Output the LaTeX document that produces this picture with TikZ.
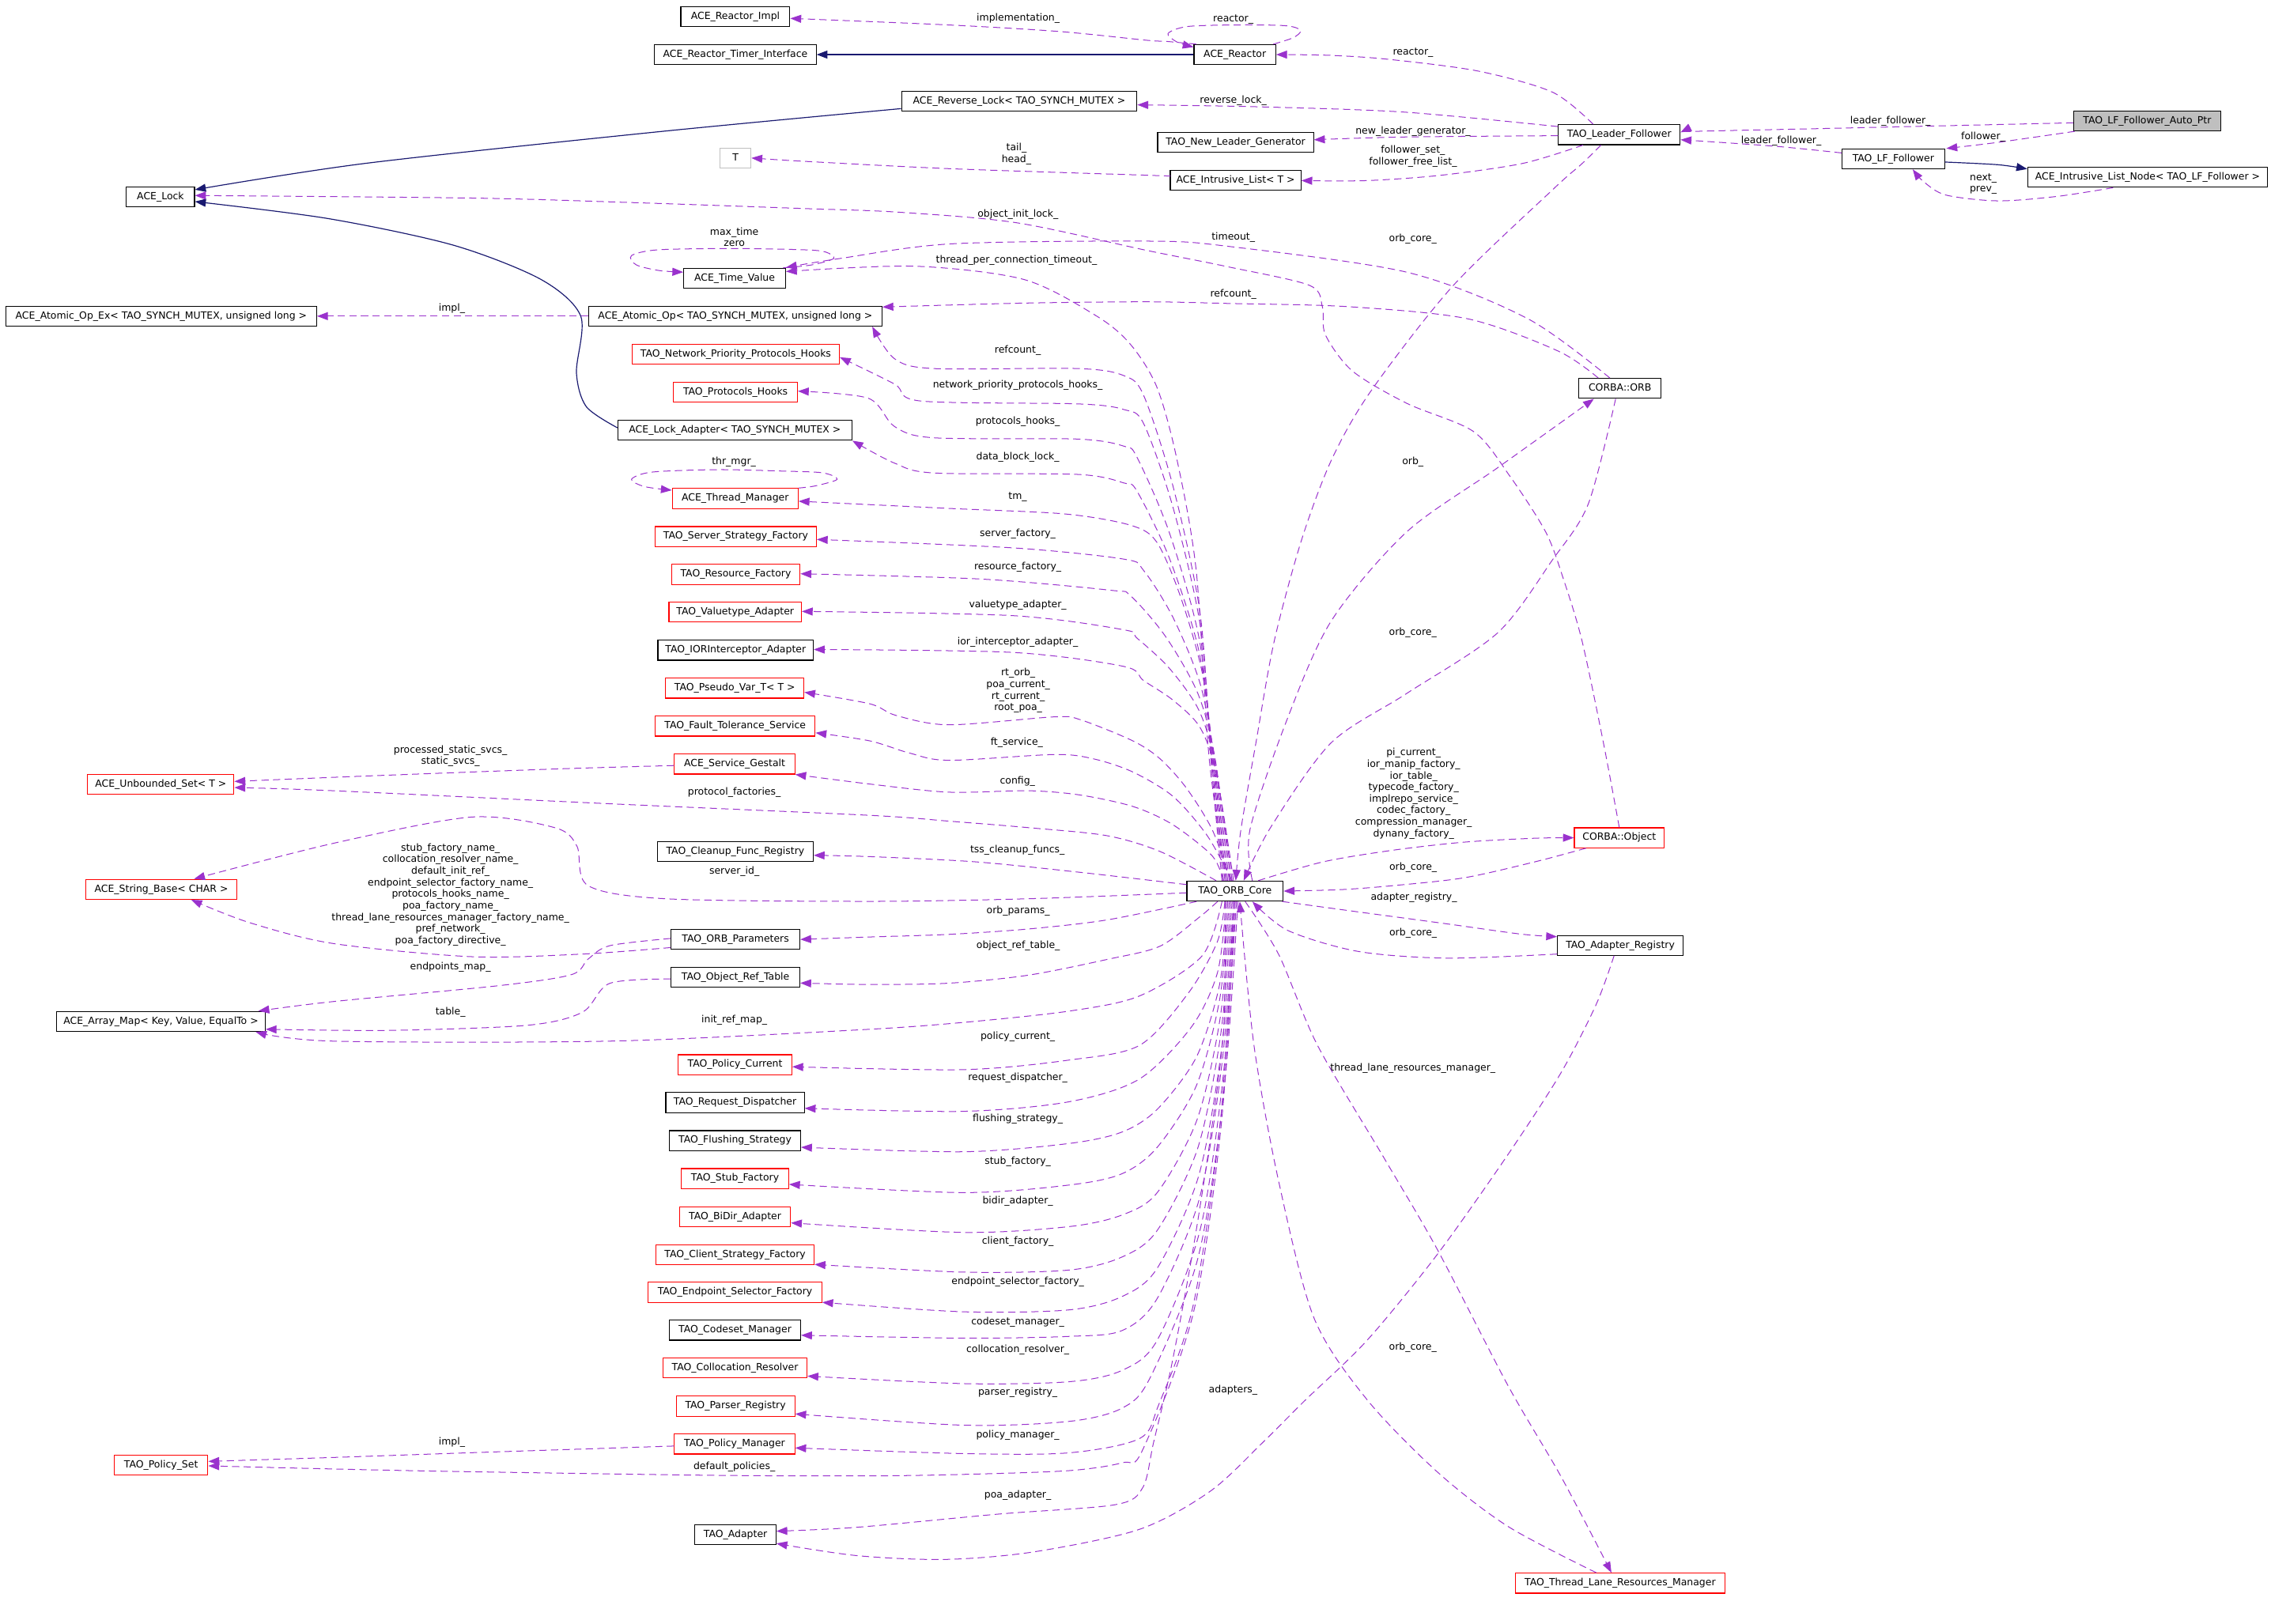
\documentclass[tikz,border=0pt]{standalone}
\usepackage{fontspec}
\setmainfont{DejaVu Sans}
\usetikzlibrary{arrows.meta}
\definecolor{depc}{HTML}{9A32CD}
\definecolor{inhc}{HTML}{191970}
\definecolor{grc}{HTML}{BFBFBF}
\newcommand{\dxf}{\fontsize{6.8}{8}\selectfont}
\begin{document}
\begin{tikzpicture}[x=1pt,y=-1pt,
 box/.style={draw=black, line width=0.6pt, minimum height=13.8pt, inner xsep=1pt, inner ysep=0pt, font=\dxf, text height=5.1pt, text depth=1.5pt},
 rbox/.style={box, draw=red},
 lbl/.style={font=\dxf, inner sep=0pt, text height=5.1pt, text depth=1.5pt},
 mlbl/.style={font=\dxf, inner sep=0pt, align=center},
 dep/.style={draw=depc, line width=0.55pt, dash pattern=on 5pt off 3pt, -{Triangle[length=7.5pt,width=5.5pt]}},
 inh/.style={draw=inhc, line width=0.65pt, -{Triangle[length=7.5pt,width=5.5pt]}},
]
\useasboundingbox (0,0) rectangle (1568,1121);

% ---------------- nodes ----------------
\node[box, minimum width=75.3pt] (impl) at (507.7,11.4) {ACE\_Reactor\_Impl};
\node[box, minimum width=111.6pt] (rti) at (507.7,37.7) {ACE\_Reactor\_Timer\_Interface};
\node[box, minimum width=56.4pt] (reactor) at (852.6,37.7) {ACE\_Reactor};
\node[box, minimum width=162.5pt] (rlock) at (703.7,69.9) {ACE\_Reverse\_Lock< TAO\_SYNCH\_MUTEX >};
\node[box, minimum width=84pt] (lf) at (1118,93) {TAO\_Leader\_Follower};
\node[box, fill=grc, minimum width=101.5pt] (autoptr) at (1482.5,83.5) {TAO\_LF\_Follower\_Auto\_Ptr};
\node[box, minimum width=107.6pt] (nlg) at (853.1,98.3) {TAO\_New\_Leader\_Generator};
\node[box, minimum width=70.7pt] (lff) at (1307.2,109.7) {TAO\_LF\_Follower};
\node[box, minimum width=165.6pt] (iln) at (1482.8,122.4) {ACE\_Intrusive\_List\_Node< TAO\_LF\_Follower >};
\node[box, draw=grc, minimum width=21.2pt] (T) at (507.9,109.1) {T};
\node[box, minimum width=90.2pt] (il) at (853.1,124.4) {ACE\_Intrusive\_List< T >};
\node[box, minimum width=47pt] (lock) at (110.8,135.9) {ACE\_Lock};
\node[box, minimum width=70.3pt] (tv) at (507.2,192.1) {ACE\_Time\_Value};
\node[box, minimum width=214.6pt] (aoex) at (111.3,218.3) {ACE\_Atomic\_Op\_Ex< TAO\_SYNCH\_MUTEX, unsigned long >};
\node[box, minimum width=202.5pt] (ao) at (507.7,218.3) {ACE\_Atomic\_Op< TAO\_SYNCH\_MUTEX, unsigned long >};
\node[rbox, minimum width=143.1pt] (nph) at (508,244.7) {TAO\_Network\_Priority\_Protocols\_Hooks};
\node[rbox, minimum width=85.6pt] (ph) at (507.8,270.8) {TAO\_Protocols\_Hooks};
\node[box, minimum width=161.6pt] (la) at (507.4,297.1) {ACE\_Lock\_Adapter< TAO\_SYNCH\_MUTEX >};
\node[rbox, minimum width=86.9pt] (tm) at (507.6,344.2) {ACE\_Thread\_Manager};
\node[rbox, minimum width=111.3pt] (ssf) at (508,370.5) {TAO\_Server\_Strategy\_Factory};
\node[rbox, minimum width=88.7pt] (rf) at (508,396.6) {TAO\_Resource\_Factory};
\node[rbox, minimum width=91.4pt] (va) at (507.6,422.7) {TAO\_Valuetype\_Adapter};
\node[box, minimum width=107.3pt] (iora) at (507.9,449) {TAO\_IORInterceptor\_Adapter};
\node[rbox, minimum width=95.5pt] (pv) at (507.3,475.2) {TAO\_Pseudo\_Var\_T< T >};
\node[rbox, minimum width=110.4pt] (fts) at (507.6,501.4) {TAO\_Fault\_Tolerance\_Service};
\node[rbox, minimum width=83.1pt] (sg) at (507.2,527.6) {ACE\_Service\_Gestalt};
\node[rbox, minimum width=101.1pt] (us) at (111,541.5) {ACE\_Unbounded\_Set< T >};
\node[box, minimum width=107.6pt] (cfr) at (507.7,588) {TAO\_Cleanup\_Func\_Registry};
\node[rbox, minimum width=104.1pt] (sb) at (111.4,614.1) {ACE\_String\_Base< CHAR >};
\node[box, minimum width=66.5pt] (core) at (852.7,615.3) {TAO\_ORB\_Core};
\node[rbox, minimum width=62pt] (obj) at (1118,578.5) {CORBA::Object};
\node[box, minimum width=57pt] (orb) at (1118.5,268.2) {CORBA::ORB};
\node[box, minimum width=88.9pt] (op) at (507.8,648.5) {TAO\_ORB\_Parameters};
\node[box, minimum width=88.9pt] (ort) at (507.8,674.7) {TAO\_Object\_Ref\_Table};
\node[box, minimum width=86.7pt] (ar) at (1118.7,652.8) {TAO\_Adapter\_Registry};
\node[box, minimum width=144pt] (am) at (111.1,705.3) {ACE\_Array\_Map< Key, Value, EqualTo >};
\node[rbox, minimum width=78.4pt] (pc) at (507.5,735.2) {TAO\_Policy\_Current};
\node[box, minimum width=95.6pt] (rd) at (507.5,761.3) {TAO\_Request\_Dispatcher};
\node[box, minimum width=90.6pt] (fs) at (507.5,787.6) {TAO\_Flushing\_Strategy};
\node[rbox, minimum width=74pt] (sf) at (507.5,813.8) {TAO\_Stub\_Factory};
\node[rbox, minimum width=76.6pt] (bda) at (507.5,840.1) {TAO\_BiDir\_Adapter};
\node[rbox, minimum width=109.2pt] (csf) at (507.5,866.3) {TAO\_Client\_Strategy\_Factory};
\node[rbox, minimum width=119.8pt] (esf) at (507.5,892.4) {TAO\_Endpoint\_Selector\_Factory};
\node[box, minimum width=90.6pt] (cm) at (507.5,918.5) {TAO\_Codeset\_Manager};
\node[rbox, minimum width=99.4pt] (cr) at (507.5,944.6) {TAO\_Collocation\_Resolver};
\node[rbox, minimum width=81.9pt] (pr) at (507.8,971) {TAO\_Parser\_Registry};
\node[rbox, minimum width=83.1pt] (pm) at (507.2,997.1) {TAO\_Policy\_Manager};
\node[rbox, minimum width=64.7pt] (ps) at (111.2,1011.5) {TAO\_Policy\_Set};
\node[box, minimum width=55.9pt] (ad) at (507.8,1059.6) {TAO\_Adapter};
\node[rbox, minimum width=145pt] (tlrm) at (1118.6,1093.2) {TAO\_Thread\_Lane\_Resources\_Manager};

% ---------------- inheritance ----------------
\draw[inh] (reactor.west) -- (rti.east);
\draw[inh] plot[smooth] coordinates {([yshift=-5.1pt]rlock.west) (454.4,91) (252.4,112.8) ([yshift=4.9pt]lock.east)};
\draw[inh] plot[smooth] coordinates {([yshift=1.7pt]la.west) (404.8,280.8) (398,257.4) (401,218.4) (373.6,193) (313,169.3) (227,151) ([yshift=-3.3pt]lock.east)};
\draw[inh] plot[smooth] coordinates {([yshift=-2.2pt]lff.east) (1379.5,113.75) ([yshift=-1.5pt]iln.north west)};

% ---------------- top region ----------------
\draw[dep] plot[smooth] coordinates {([xshift=2pt]reactor.north west) (805.4,28.6) (791.7,27.8) (732,21.8) (656.4,17.3) ([yshift=-1.3pt]impl.east)};
\draw[dep] plot[smooth] coordinates {([xshift=-2pt]reactor.north east) (893,26) (898,21) (888,17.8) (856.7,17.2) (820,18.3) (806.4,23.2) (813,29.2) ([yshift=-2pt]reactor.north west)};
\draw[dep] plot[smooth] coordinates {([xshift=-18pt]lf.north) (1072,63.7) (1020.7,49.1) (959,41) (918.2,38.2) (reactor.east)};
\draw[dep] plot[smooth] coordinates {([yshift=5.6pt]lf.west) (969.4,77.4) (866.9,73.7) ([yshift=-2.5pt]rlock.east)};
\draw[dep] plot[smooth] coordinates {([yshift=-0.7pt]lf.west) (969.4,94.6) ([yshift=1.8pt]nlg.east)};
\draw[dep] plot[smooth] coordinates {([xshift=-25pt]lf.south) (1051.5,112.8) (995.1,121) (943.8,124.7) ([yshift=-0.3pt]il.east)};
\draw[dep] plot[smooth] coordinates {([yshift=2.8pt]il.west) (791.7,121) (656.4,116.5) (555.4,111.4) (T.east)};
\draw[dep] plot[smooth] coordinates {([yshift=-1.3pt]autoptr.west) (1256.5,88.8) (1174.5,90.6) ([yshift=1.6pt]lf.east)};
\draw[dep] plot[smooth] coordinates {([xshift=1pt]autoptr.south west) (1379.5,98.3) ([xshift=1pt]lff.north east)};
\draw[dep] plot[smooth] coordinates {([yshift=4.1pt]lff.west) (1225.7,101) ([yshift=-3.5pt]lf.east)};
\draw[dep] plot[smooth] coordinates {([xshift=-23.8pt]iln.south) (1420.5,135.6) (1379.5,138.7) (1343.6,134.7) (1328.3,125.6) ([xshift=13.4pt]lff.south)};

% object_init_lock_
\draw[dep] plot[smooth] coordinates {(obj.north) (1107,512.6) (1092.4,443) (1079.9,401.2) (1067.4,367.7) (1042.4,328.7) (1017.4,298) (971.5,278.6) (933.9,256.3) (915.1,231.2) (913,211.7) (904,197) (846.3,183.9) (791.7,172.9) (701.8,153.8) (620,146.5) (555,144) (434,139.8) (328,136.8) ([yshift=0.9pt]lock.east)};
% timeout_ , refcount_ from ORB
\draw[dep] plot[smooth] coordinates {([xshift=-7pt]orb.north) (1054.9,220.1) (971.5,188) (846.3,169.9) (791.7,166.5) (656.4,168.4) (580.6,178.4) ([yshift=7.4pt]tv.east)};
\draw[dep] plot[smooth] coordinates {([xshift=-15pt]orb.north) (1075.8,242.4) (1013.2,220.1) (929.7,211.7) (846.3,209.5) (791.7,208.4) (706.9,209.3) ([yshift=6.3pt]ao.east)};
% Time value self loop
\draw[dep] plot[smooth] coordinates {([xshift=-2pt]tv.north east) (560,183) (575.6,178.5) (570,174) (555.4,172.5) (506.4,171.6) (454.4,172.5) (436,176.5) (439.3,182.9) (455,186.8) ([yshift=-3pt]tv.north west)};
% thread_per_connection_timeout_
\draw[dep] plot[smooth] coordinates {([xshift=-6pt]core.north) (834.9,524.2) (825.9,393.9) (812.3,315.9) (798.7,267.2) (780.6,237.9) (757.4,218.4) (707,193) (631,183.8) ([yshift=4.6pt]tv.east)};
\draw[dep] (ao.west) -- (aoex.east);

% ---------------- ORB core, upward left ----------------
\draw[dep] plot[smooth] coordinates {([xshift=-9pt]core.north) (836,524) (828.6,423.6) (809.9,335.8) (789.6,273) (776,259.4) (744.4,254.5) (644.8,254.5) (617.6,247.7) ([xshift=-7pt]ao.south east)};
\draw[dep] plot[smooth] coordinates {([xshift=-8pt]core.north) (836.5,524) (828.6,431.4) (809.9,350.4) (789.6,292.5) (776,282.8) (744.4,278.9) (635.7,276.9) (617.6,265.2) ([yshift=-2pt]nph.east)};
\draw[dep] plot[smooth] coordinates {([xshift=-7pt]core.north) (837,524) (827.9,440.8) (807.4,367.9) (785.1,315.9) (776,308.1) (744.4,303.2) (644.8,302.3) (617.6,294.5) (599.5,275) ([yshift=0.7pt]ph.east)};
\draw[dep] plot[smooth] coordinates {([xshift=-6pt]core.north) (837.5,524) (827.9,450.1) (807.4,385.5) (785.1,339.3) (776,333.5) (744.4,327.6) (644.8,326.6) (617.6,319.8) (la.south east)};
\draw[dep] plot[smooth] coordinates {(tm.north east) (563,335.5) (578,331) (568,326.5) (540.6,325.3) (495.4,324.3) (450,326) (436,331) (445,336) ([yshift=-1.5pt]tm.north west)};
\draw[dep] plot[smooth] coordinates {([xshift=-5pt]core.north) (838,524) (830,464.2) (815,411.8) (798.7,374.4) (780.6,362.7) (735.3,354.9) (653.8,351) ([yshift=-1.9pt]tm.east)};
\draw[dep] plot[smooth] coordinates {([xshift=-4pt]core.north) (838.5,524) (828.6,472) (809.9,426.4) (789.6,393.9) (776,386.1) (699.1,378.3) ([yshift=-2pt]ssf.east)};
\draw[dep] plot[smooth] coordinates {([xshift=-3pt]core.north) (839,524) (827.1,479) (804.8,439.6) (780.6,411.5) (767,407.6) (676.5,399.8) ([yshift=0.4pt]rf.east)};
\draw[dep] plot[smooth] coordinates {([xshift=-2pt]core.north) (839.5,530) (827.9,490.7) (807.4,461.5) (785.1,440.7) (776,434.9) (699.1,425.1) ([yshift=0.5pt]va.east)};
\draw[dep] plot[smooth] coordinates {([xshift=-1pt]core.north) (840,535) (828.6,502.4) (809.9,483.5) (789.6,470) (776,460.2) (699.1,450.5) ([yshift=0.5pt]iora.east)};
\draw[dep] plot[smooth] coordinates {([xshift=-3pt]core.north) (837,573) (819,544) (801,524) (782,511.5) (746,497) (728,495) (655,500.5) (618.6,494) (600.6,486) ([yshift=-2.8pt]pv.east)};
\draw[dep] plot[smooth] coordinates {([xshift=-2pt]core.north) (833.5,577) (810,550) (782,533) (755,524) (728,521) (655,525) (628,520) (600.6,511.6) ([yshift=-4.6pt]fts.east)};
\draw[dep] plot[smooth] coordinates {([xshift=-8pt]core.north) (837,591) (810,569.6) (782.6,557) (746,549) (710,546) (655,547) (600.6,541.4) (sg.south east)};
\draw[dep] plot[smooth] coordinates {([xshift=-13pt]core.north) (800.8,587.9) (764,577) (710,571.5) (655,567) (600.6,563) (421,555) (230,546) ([yshift=-2.3pt]us.east)};
\draw[dep] plot[smooth] coordinates {([yshift=4.5pt]core.west) (746.2,602.4) (673.4,595.1) (600.6,591.5) ([yshift=-2.6pt]cfr.east)};
\draw[dep] plot[smooth] coordinates {([yshift=-1.2pt]core.west) (710,620.6) (600.6,622.4) (459.6,620.6) (406,611.5) (398.3,584.2) (383,571.5) (325.5,564.2) (229.8,582.4) ([xshift=22.6pt]sb.north)};

% ---------------- ORB core, downward left ----------------
\draw[dep] plot[smooth] coordinates {([xshift=7pt]core.south west) (764.4,635.2) (709.8,641.5) (655.2,645.2) (600.6,647) ([yshift=-0.2pt]op.east)};
\draw[dep] plot[smooth] coordinates {([xshift=-12pt]core.south) (828,633.4) (800.8,653.4) (764.4,662.5) (709.8,673.4) (655.2,678.9) (600.6,679.8) ([yshift=-4.1pt]ort.east)};
\draw[dep] plot[smooth] coordinates {([xshift=-9pt]core.south) (830,660) (786.8,687.7) (738,698.2) (665,706) (591.8,711.2) (421.3,718.9) (229.8,718.9) ([xshift=-6.9pt]am.south east)};
\draw[dep] plot[smooth] coordinates {([xshift=-7pt]core.south) (840.6,650) (821,685) (787,721.7) (738,732) (665,738.6) ([yshift=-1.4pt]pc.east)};
\draw[dep] plot[smooth] coordinates {([xshift=-6pt]core.south) (840.7,671.2) (823,708.6) (786.8,745) (738,760.8) (665,767.4) ([yshift=-4pt]rd.east)};
\draw[dep] plot[smooth] coordinates {([xshift=-5pt]core.south) (842.1,679.6) (826,730) (799,766) (774.6,781.7) (738,789.6) (665,795.3) ([yshift=-4.6pt]fs.east)};
\draw[dep] plot[smooth] coordinates {([xshift=-4pt]core.south) (842.1,690.1) (826,749.7) (799,792.2) (774.6,810.5) (738,818.3) (665,823.5) ([yshift=-4pt]sf.east)};
\draw[dep] plot[smooth] coordinates {([xshift=-3pt]core.south) (842.5,702.6) (826.5,773.1) (799,823.5) (774.6,839) (738,847) (665,851) ([yshift=-4.3pt]bda.east)};
\draw[dep] plot[smooth] coordinates {([xshift=-2pt]core.south) (843,713) (827,792.7) (799,849.6) (774.6,868) (738,877) (665,878.4) ([yshift=-6.8pt]csf.east)};
\draw[dep] plot[smooth] coordinates {([xshift=-1pt]core.south) (843.5,723.5) (827.5,812.3) (799,875.7) (774.6,895.3) (738,904.5) (665,905.8) ([yshift=-6.9pt]esf.east)};
\draw[dep] plot[smooth] coordinates {(core.south) (844,731.8) (828,828) (799,896.6) (774.6,918.8) (738,922.8) (665,924) ([yshift=-3.5pt]cm.east)};
\draw[dep] plot[smooth] coordinates {([xshift=1pt]core.south) (844.5,743.4) (828.5,849.6) (799,925.4) (774.6,946.3) (738,954.1) (665,955.4) ([yshift=-5.6pt]cr.east)};
\draw[dep] plot[smooth] coordinates {([xshift=2pt]core.south) (845,753.8) (827,869.1) (794,951.5) (774.6,972.4) (738,981.5) (665,984.1) ([yshift=-5.3pt]pr.east)};
\draw[dep] plot[smooth] coordinates {([xshift=-1pt]core.south) (843,770.5) (824,900.5) (800,970) (786.8,993.3) (738,1003.2) (665,1003.7) ([yshift=-2.7pt]pm.east)};
\draw[dep] plot[smooth] coordinates {(core.south) (843.5,773.6) (824,906.3) (789,1001) (775,1010) (738,1015.5) (665,1018.1) (600.6,1019.1) (490.2,1018.7) (283.4,1015.5) ([yshift=-0.7pt]ps.east)};
\draw[dep] plot[smooth] coordinates {([xshift=-7pt]core.south) (845,708.6) (835.5,787) (823.3,865.3) (808.7,943.7) (796.5,995.9) (789,1027.2) (770,1039) (689.3,1045.5) (591.8,1054.6) ([yshift=2.3pt]ad.east)};

% ---------------- right side ----------------
\draw[dep] plot[smooth] coordinates {([xshift=16pt]core.north) (913.6,595.1) (962.3,587) (1011,581.5) (1059.8,578.8) (obj.west)};
\draw[dep] plot[smooth] coordinates {([xshift=-23pt]obj.south) (1059.8,595.1) (1011,606.1) (962.3,611.5) (925.7,614.3) (core.east)};
\draw[dep] plot[smooth] coordinates {([xshift=-1pt]core.south east) (937.9,629.7) (998.8,637.9) (1050,645) ([yshift=-1.2pt]ar.north west)};
\draw[dep] plot[smooth] coordinates {([yshift=-6pt]ar.west) (998.8,661.6) (937.9,657) (889.2,642.5) ([xshift=12pt]core.south)};
\draw[dep] plot[smooth] coordinates {([xshift=7pt]core.south) (882.9,659.2) (909.7,721.9) (956,800.3) (992.5,863) (1041.3,957) (1077.8,1019.6) ([xshift=-6pt]tlrm.north)};
\draw[dep] plot[smooth] coordinates {([xshift=-16.4pt]tlrm.north) (1041.3,1054.1) (992.5,1016.5) (943.8,966.4) (907.2,910) (882.9,816) (865.8,721.9) ([xshift=3.3pt]core.south)};
\draw[dep] plot[smooth] coordinates {([xshift=-4.3pt]ar.south) (1102,693.7) (1077.8,740.7) (1041.3,797) (992.5,866) (943.8,925.6) (900.8,967.2) (872,995.9) (835.5,1029.8) (786.8,1056) (713.7,1071.6) (652.7,1076.8) (591.8,1074.2) ([yshift=1pt]ad.south east)};
\draw[dep] plot[smooth] coordinates {([xshift=12pt]core.north) (863,573) (888,498.5) (919,429) (971,367.5) (1034,323) ([xshift=-18pt]orb.south)};
\draw[dep] plot[smooth] coordinates {([xshift=-3pt]orb.south) (1096.6,348) (1071.6,387) (1034,437) (971,479) (919,513) (877.5,571) ([xshift=6pt]core.north)};
\draw[dep] plot[smooth] coordinates {([xshift=-12.7pt]lf.south) (1092.5,112.8) (1072,131) (1002.8,197.8) (946.4,270.2) (919.3,317.6) (898.5,373.3) (879.7,443) (867.2,512.6) (856.7,573.3) ([xshift=0.5pt]core.north)};

% ---------------- left side ----------------
\draw[dep] plot[smooth] coordinates {([yshift=-1pt]sg.west) (383,531) (249,536) ([yshift=1.9pt]us.east)};
\draw[dep] plot[smooth] coordinates {([yshift=-5.8pt]op.west) (402,658.8) (325.5,660.6) (230,651.5) (172,637) ([xshift=20.6pt]sb.south)};
\draw[dep] plot[smooth] coordinates {([yshift=0.5pt]op.west) (421,653) (406,662.3) (394.5,673) (344.5,680.6) (230,691.6) ([xshift=-5pt]am.north east)};
\draw[dep] plot[smooth] coordinates {([yshift=-1.3pt]ort.west) (421,679) (402,699) (363.8,708) (268,711.5) ([yshift=-5.4pt]am.east)};
\draw[dep] plot[smooth] coordinates {([yshift=-1.4pt]pm.west) (325.5,1003.1) (229.8,1006.4) ([yshift=2.4pt]ps.east)};

% ---------------- labels ----------------
\node[lbl] (l01) at (703,12.4) {implementation\_};
\node[lbl] (l02) at (851.5,13.2) {reactor\_};
\node[lbl] (l03) at (975.6,36.4) {reactor\_};
\node[lbl] (l04) at (851.5,69.2) {reverse\_lock\_};
\node[lbl] (l05) at (975.6,91) {new\_leader\_generator\_};
\node[mlbl] (l06) at (975.6,107.8) {follower\_set\_\\follower\_free\_list\_};
\node[mlbl] (l07) at (701.8,106.4) {tail\_\\head\_};
\node[lbl] (l08) at (1305.2,83.4) {leader\_follower\_};
\node[lbl] (l09) at (1369.3,94.3) {follower\_};
\node[lbl] (l10) at (1229.8,97.4) {leader\_follower\_};
\node[mlbl] (l11) at (1369.3,127) {next\_\\prev\_};
\node[lbl] (l12) at (702.8,147.8) {object\_init\_lock\_};
\node[mlbl] (l13) at (507,163.8) {max\_time\\zero};
\node[lbl] (l14) at (851.5,163.8) {timeout\_};
\node[lbl] (l15) at (975.5,165) {orb\_core\_};
\node[lbl] (l16) at (701.8,179.6) {thread\_per\_connection\_timeout\_};
\node[lbl] (l17) at (851.5,203) {refcount\_};
\node[lbl] (l18) at (312,213) {impl\_};
\node[lbl] (l19) at (702.7,241.8) {refcount\_};
\node[lbl] (l20) at (702.7,266.2) {network\_priority\_protocols\_hooks\_};
\node[lbl] (l21) at (702.7,290.9) {protocols\_hooks\_};
\node[lbl] (l22) at (702.7,315.9) {data\_block\_lock\_};
\node[lbl] (l23) at (975.5,319) {orb\_};
\node[lbl] (l24) at (506.7,319.2) {thr\_mgr\_};
\node[lbl] (l25) at (702.7,343.2) {tm\_};
\node[lbl] (l26) at (702.7,368.9) {server\_factory\_};
\node[lbl] (l27) at (702.7,391.4) {resource\_factory\_};
\node[lbl] (l28) at (702.7,417.7) {valuetype\_adapter\_};
\node[lbl] (l29) at (975.5,437) {orb\_core\_};
\node[lbl] (l30) at (702.7,443.2) {ior\_interceptor\_adapter\_};
\node[mlbl] (l31) at (703,477) {rt\_orb\_\\poa\_current\_\\rt\_current\_\\root\_poa\_};
\node[lbl] (l32) at (702,513) {ft\_service\_};
\node[mlbl] (l33) at (311,522) {processed\_static\_svcs\_\\static\_svcs\_};
\node[lbl] (l34) at (702.5,539.5) {config\_};
\node[lbl] (l35) at (507,547.4) {protocol\_factories\_};
\node[mlbl] (l36) at (976,548) {pi\_current\_\\ior\_manip\_factory\_\\ior\_table\_\\typecode\_factory\_\\implrepo\_service\_\\codec\_factory\_\\compression\_manager\_\\dynany\_factory\_};
\node[lbl] (l37) at (702.5,587) {tss\_cleanup\_funcs\_};
\node[lbl] (l38) at (975.7,598.8) {orb\_core\_};
\node[lbl] (l39) at (507,602) {server\_id\_};
\node[mlbl] (l40) at (311,617.8) {stub\_factory\_name\_\\collocation\_resolver\_name\_\\default\_init\_ref\_\\endpoint\_selector\_factory\_name\_\\protocols\_hooks\_name\_\\poa\_factory\_name\_\\thread\_lane\_resources\_manager\_factory\_name\_\\pref\_network\_\\poa\_factory\_directive\_};
\node[lbl] (l41) at (976.2,620) {adapter\_registry\_};
\node[lbl] (l42) at (703,629) {orb\_params\_};
\node[lbl] (l43) at (975.7,644.6) {orb\_core\_};
\node[lbl] (l44) at (703,653) {object\_ref\_table\_};
\node[lbl] (l45) at (311,667.6) {endpoints\_map\_};
\node[lbl] (l46) at (311,699) {table\_};
\node[lbl] (l47) at (507,704.4) {init\_ref\_map\_};
\node[lbl] (l48) at (702.7,715.7) {policy\_current\_};
\node[lbl] (l49) at (975.5,737.6) {thread\_lane\_resources\_manager\_};
\node[lbl] (l50) at (702.7,744.4) {request\_dispatcher\_};
\node[lbl] (l51) at (702.7,772.9) {flushing\_strategy\_};
\node[lbl] (l52) at (702.7,801.9) {stub\_factory\_};
\node[lbl] (l53) at (702.7,829.5) {bidir\_adapter\_};
\node[lbl] (l54) at (702.7,857.5) {client\_factory\_};
\node[lbl] (l55) at (702.7,884.9) {endpoint\_selector\_factory\_};
\node[lbl] (l56) at (702.7,912.8) {codeset\_manager\_};
\node[lbl] (l57) at (702.7,931.9) {collocation\_resolver\_};
\node[lbl] (l58) at (975.5,930.3) {orb\_core\_};
\node[lbl] (l59) at (851.4,960) {adapters\_};
\node[lbl] (l60) at (702.7,961.4) {parser\_registry\_};
\node[lbl] (l61) at (702.7,990.9) {policy\_manager\_};
\node[lbl] (l62) at (312,995.8) {impl\_};
\node[lbl] (l63) at (507,1012.7) {default\_policies\_};
\node[lbl] (l64) at (702.7,1032.4) {poa\_adapter\_};
\end{tikzpicture}
\end{document}
